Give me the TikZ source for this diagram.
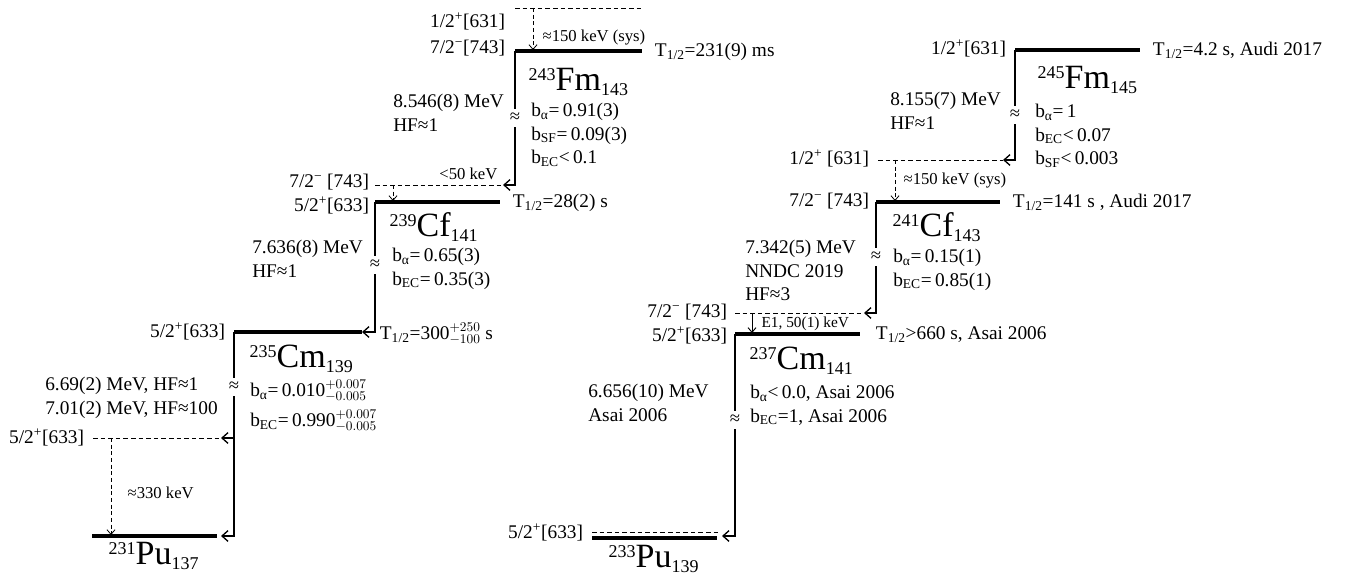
\documentclass[tikz,border=0pt]{standalone}
\usepackage{fontspec}
\setmainfont{Liberation Serif}
\usetikzlibrary{arrows.meta}

\newcommand{\nuc}[3]{{\fontsize{13.5}{13.5}\selectfont\raisebox{1.2ex}{#1}}{\fontsize{25.5}{25.5}\selectfont #2}{\fontsize{13.5}{13.5}\selectfont\raisebox{-0.6ex}{#3}}}

\begin{document}
\begin{tikzpicture}[
  x=0.75pt,y=-0.75pt,
  font=\fontsize{14.5}{17.5}\selectfont,
  lvl/.style={line width=2.4pt},
  dlev/.style={line width=0.7pt,dash pattern=on 3.5pt off 2.2pt},
  decay/.style={line width=1pt,-{Straight Barb[length=4.5pt,width=8pt]}},
  gam/.style={line width=0.6pt,dash pattern=on 3pt off 2pt,-{Straight Barb[length=3.5pt,width=6pt]}},
  lab/.style={anchor=east,inner sep=2pt},
  thalf/.style={anchor=west,inner sep=2pt},
  txt/.style={anchor=north west,align=left,inner sep=0pt},
  kev/.style={font=\fontsize{12.5}{14}\selectfont,inner sep=1pt},
  apx/.style={fill=white,inner xsep=0.5pt,inner ysep=3pt,font=\fontsize{14}{14}\selectfont},
]
\useasboundingbox (0,0) rectangle (1349,580);

% 243Fm -> 239Cf -> 235Cm -> 231Pu
\coordinate (fm243t) at (515,8);
\coordinate (fm243tr) at (642,8);
\coordinate (fm243l) at (515,51);
\coordinate (fm243r) at (642,51);
\coordinate (fm243ga) at (533,8);
\coordinate (fm243gb) at (533,50);
\draw[dlev] (fm243t) -- (fm243tr);
\draw[lvl] (fm243l) -- (fm243r);
\draw[gam] (fm243ga) -- (fm243gb);
\node[lab] (fm243s1) at (508,21) {1/2\textsuperscript{+}[631]};
\node[lab] (fm243s2) at (508,48) {7/2\textsuperscript{−}[743]};
\node[kev,anchor=west] (fm243g) at (541,38) {≈150 keV (sys)};
\node[thalf] (fm243h) at (652,52) {T\textsubscript{1/2}=231(9) ms};
\node[anchor=west] (fm243n) at (524,82) {\nuc{243}{Fm}{143}};
\node[txt] (fm243q) at (393,94) {8.546(8) MeV\\HF≈1};
\node[txt] (fm243b) at (531,103) {b\textsubscript{α}=\,0.91(3)\\b\textsubscript{SF}=\,0.09(3)\\b\textsubscript{EC}<\,0.1};

\coordinate (cf239dl) at (375,185);
\coordinate (cf239dr) at (503,185);
\coordinate (cf239l) at (375,202);
\coordinate (cf239r) at (500,202);
\coordinate (cf239ga) at (393,185);
\coordinate (cf239gb) at (393,201);
\draw[dlev] (cf239dl) -- (cf239dr);
\draw[lvl] (cf239l) -- (cf239r);
\draw[gam] (cf239ga) -- (cf239gb);
\draw[decay] (fm243l) |- (cf239dr);
\node[apx] (fm243a) at (515,118) {≈};
\node[kev,anchor=east] (cf239g) at (499,174) {<50 keV};
\node[lab] (cf239s1) at (372,182) {7/2\textsuperscript{−} [743]};
\node[lab] (cf239s2) at (372,205) {5/2\textsuperscript{+}[633]};
\node[thalf] (cf239h) at (510,203) {T\textsubscript{1/2}=28(2) s};
\node[anchor=west] (cf239n) at (385,227) {\nuc{239}{Cf}{141}};
\node[txt] (cf239q) at (252,240) {7.636(8) MeV\\HF≈1};
\node[txt] (cf239b) at (392,248) {b\textsubscript{α}=\,0.65(3)\\b\textsubscript{EC}=\,0.35(3)};

\coordinate (cm235l) at (234,332);
\coordinate (cm235r) at (362,332);
\draw[lvl] (cm235l) -- (cm235r);
\draw[decay] (cf239l) |- (cm235r);
\node[apx] (cf239a) at (375,265) {≈};
\node[lab] (cm235s) at (228,331) {5/2\textsuperscript{+}[633]};
\node[thalf] (cm235h) at (377,334) {T\textsubscript{1/2}=300$^{+250}_{-100}$ s};
\node[anchor=west] (cm235n) at (245,359) {\nuc{235}{Cm}{139}};
\node[txt] (cm235q) at (45,377) {6.69(2) MeV, HF≈1\\7.01(2) MeV, HF≈100};
\node[txt] (cm235b) at (250,380) {b\textsubscript{α}=\,0.010$^{+0.007}_{-0.005}$\\[5pt]b\textsubscript{EC}=\,0.990$^{+0.007}_{-0.005}$};

\coordinate (pu231dl) at (93,438);
\coordinate (pu231dr) at (221,438);
\coordinate (pu231l) at (92,536);
\coordinate (pu231r) at (221,536);
\coordinate (pu231ga) at (111,438);
\coordinate (pu231gb) at (111,535);
\draw[dlev] (pu231dl) -- (pu231dr);
\draw[lvl] (pu231l) -- ([xshift=-3pt]pu231r);
\draw[gam] (pu231ga) -- (pu231gb);
\draw[decay] (cm235l) |- (pu231dr);
\draw[decay] (cm235l) |- (pu231r);
\node[apx] (cm235a) at (234,387) {≈};
\node[lab] (pu231s) at (87,437) {5/2\textsuperscript{+}[633]};
\node[kev,anchor=west] (pu231g) at (126,493) {≈330 keV};
\node[anchor=west] (pu231n) at (104,556) {\nuc{231}{Pu}{137}};

% 245Fm -> 241Cf -> 237Cm -> 233Pu
\coordinate (fm245l) at (1015,50);
\coordinate (fm245r) at (1140,50);
\draw[lvl] (fm245l) -- (fm245r);
\node[lab] (fm245s) at (1009,48) {1/2\textsuperscript{+}[631]};
\node[thalf] (fm245h) at (1150,50) {T\textsubscript{1/2}=4.2 s, Audi 2017};
\node[anchor=west] (fm245n) at (1033,80) {\nuc{245}{Fm}{145}};
\node[txt] (fm245q) at (890,92) {8.155(7) MeV\\HF≈1};
\node[txt] (fm245b) at (1035,104) {b\textsubscript{α}=\,1\\b\textsubscript{EC}<\,0.07\\b\textsubscript{SF}<\,0.003};

\coordinate (cf241dl) at (878,160);
\coordinate (cf241dr) at (1003,160);
\coordinate (cf241l) at (876,202);
\coordinate (cf241r) at (1000,202);
\coordinate (cf241ga) at (895,160);
\coordinate (cf241gb) at (895,201);
\draw[dlev] (cf241dl) -- (cf241dr);
\draw[lvl] (cf241l) -- (cf241r);
\draw[gam] (cf241ga) -- (cf241gb);
\draw[decay] (fm245l) |- (cf241dr);
\node[apx] (fm245a) at (1015,115) {≈};
\node[lab] (cf241s1) at (872,158) {1/2\textsuperscript{+} [631]};
\node[lab] (cf241s2) at (872,201) {7/2\textsuperscript{−} [743]};
\node[kev,anchor=west] (cf241g) at (902,181) {≈150 keV (sys)};
\node[thalf] (cf241h) at (1010,202) {T\textsubscript{1/2}=141 s , Audi 2017};
\node[anchor=west] (cf241n) at (888,227) {\nuc{241}{Cf}{143}};
\node[txt] (cf241q) at (745,240) {7.342(5) MeV\\NNDC 2019\\HF≈3};
\node[txt] (cf241b) at (893,249) {b\textsubscript{α}=\,0.15(1)\\b\textsubscript{EC}=\,0.85(1)};

\coordinate (cm237dl) at (735,313);
\coordinate (cm237dr) at (864,313);
\coordinate (cm237l) at (735,334);
\coordinate (cm237r) at (860,334);
\coordinate (cm237ga) at (752,314);
\coordinate (cm237gb) at (752,333);
\draw[dlev] (cm237dl) -- (cm237dr);
\draw[lvl] (cm237l) -- (cm237r);
\draw[line width=0.7pt,-{Straight Barb[length=3.5pt,width=6pt]}] (cm237ga) -- (cm237gb);
\draw[decay] (cf241l) |- (cm237dr);
\node[apx] (cf241a) at (876,257) {≈};
\node[lab] (cm237s1) at (730,312) {7/2\textsuperscript{−} [743]};
\node[lab] (cm237s2) at (730,335) {5/2\textsuperscript{+}[633]};
\node[kev,anchor=west,font=\fontsize{11.5}{12}\selectfont] (cm237g) at (760,324) {E1, 50(1) keV};
\node[thalf] (cm237h) at (873,335) {T\textsubscript{1/2}>660 s, Asai 2006};
\node[anchor=west] (cm237n) at (745,361) {\nuc{237}{Cm}{141}};
\node[txt] (cm237q) at (588,384) {6.656(10) MeV\\Asai 2006};
\node[txt] (cm237b) at (750,385) {b\textsubscript{α}<\,0.0, Asai 2006\\b\textsubscript{EC}=1, Asai 2006};

\coordinate (pu233dl) at (592,532);
\coordinate (pu233dr) at (720,532);
\coordinate (pu233l) at (592,538);
\coordinate (pu233r) at (717,538);
\coordinate (pu233a) at (722,536);
\draw[dlev] (pu233dl) -- (pu233dr);
\draw[lvl] (pu233l) -- (pu233r);
\draw[decay] (cm237l) |- (pu233a);
\node[apx] (cm237a) at (735,420) {≈};
\node[lab] (pu233s) at (586,532) {5/2\textsuperscript{+}[633]};
\node[anchor=west] (pu233n) at (604,559) {\nuc{233}{Pu}{139}};
\end{tikzpicture}
\end{document}
